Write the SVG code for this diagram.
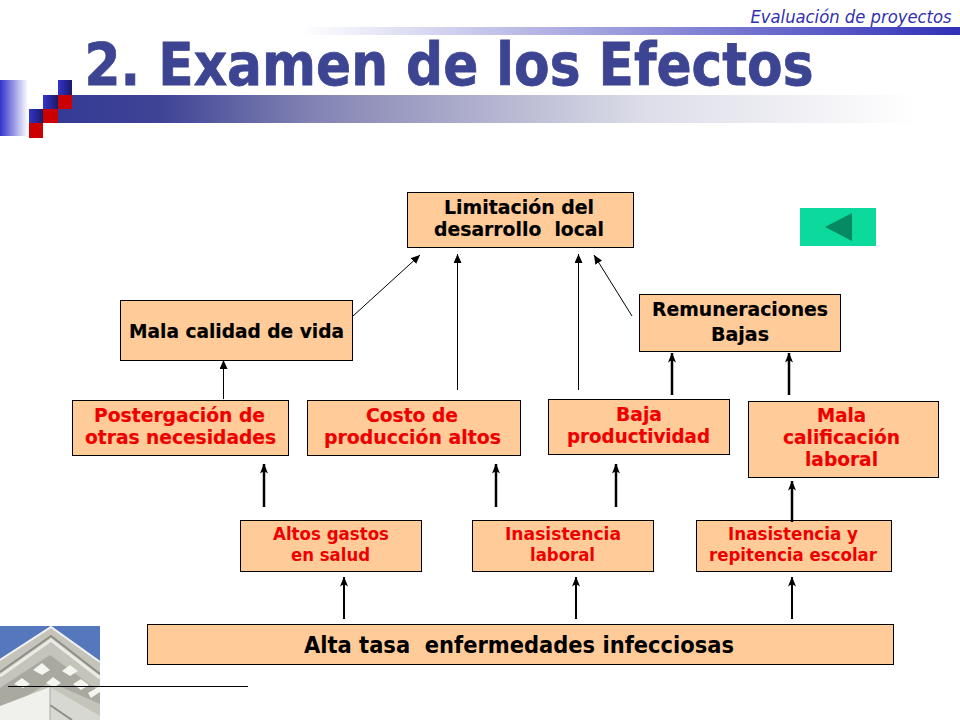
<svg xmlns="http://www.w3.org/2000/svg" width="960" height="720" viewBox="0 0 960 720">
<style>
.box{fill:#ffcc99;stroke:#000;stroke-width:1}
text{font-family:"DejaVu Sans","Liberation Sans",sans-serif;font-weight:700;text-anchor:middle;white-space:pre}
.k{fill:#000;stroke:#000;stroke-width:.2;font-size:20px}
.r{fill:#ee0000;stroke:#ee0000;stroke-width:.2;font-size:20px}
.s{fill:#ee0000;font-size:18px}
.c{stroke:#000;stroke-width:2.500;fill:none;marker-end:url(#a)}
.b{stroke:#000;stroke-width:2;fill:none;marker-end:url(#a)}
.t{stroke:#000;stroke-width:1;fill:none;marker-end:url(#a2)}
</style>
<defs>
<marker id="a" markerUnits="userSpaceOnUse" viewBox="0 0 10 8" refX="9.500" refY="4" markerWidth="10" markerHeight="8" orient="auto"><path d="M0 0L10 4L0 8L2.500 4Z" fill="#000"/></marker>
<marker id="a2" markerUnits="userSpaceOnUse" viewBox="0 0 9 8" refX="9" refY="4" markerWidth="9" markerHeight="8" orient="auto"><path d="M0 0L9 4L0 8Z" fill="#000"/></marker>
<linearGradient id="g1" x1="0" x2="1" y1="0" y2="0"><stop offset="0" stop-color="#353a95"/><stop offset=".12" stop-color="#3f4496"/><stop offset=".3" stop-color="#8484b4"/><stop offset=".68" stop-color="#dcdde8"/><stop offset="1" stop-color="#fff"/></linearGradient>
<linearGradient id="g2" x1="0" x2="1" y1="0" y2="0"><stop offset="0" stop-color="#fff"/><stop offset="1" stop-color="#3030b8"/></linearGradient>
<linearGradient id="g3" x1="0" x2="1" y1="0" y2="0"><stop offset="0" stop-color="#3333cc"/><stop offset="1" stop-color="#fff"/></linearGradient>
<linearGradient id="g4" x1="0" x2="1" y1="0" y2="0"><stop offset="0" stop-color="#3333cc"/><stop offset="1" stop-color="#1a1a66"/></linearGradient>
<clipPath id="ph"><rect x="0" y="626" width="100" height="94"/></clipPath>
</defs>
<g id="header">
<rect x="300" y="27" width="660" height="8" fill="url(#g2)"/>
<rect x="0" y="80" width="28" height="56" fill="url(#g3)"/>
<rect x="58" y="95" width="862" height="28" fill="url(#g1)"/>
<rect x="58" y="80" width="14" height="15" fill="url(#g4)"/>
<rect x="43" y="95" width="15" height="14" fill="url(#g4)"/>
<rect x="58" y="95" width="14" height="14" fill="#cc0000"/>
<rect x="29" y="109" width="14" height="14" fill="url(#g4)"/>
<rect x="43" y="109" width="15" height="14" fill="#cc0000"/>
<rect x="29" y="123" width="14" height="15" fill="#cc0000"/>
<text x="851" y="23" style="font-weight:400;font-style:italic;font-size:17px;fill:#3030b0" textLength="201" lengthAdjust="spacingAndGlyphs">Evaluación de proyectos</text>
<text x="449" y="85" style="font-size:59px;fill:#3d4593;stroke:#3d4593;stroke-width:.8" textLength="729" lengthAdjust="spacingAndGlyphs">2. Examen de los Efectos</text>
</g>
<g id="photo" clip-path="url(#ph)">
<rect x="0" y="626" width="100" height="94" fill="#5577bb"/>
<path d="M0 660L51 626L100 662V720H0Z" fill="#c4c4ba"/>
<path d="M0 660L51 627L100 662" fill="none" stroke="#f2f2f2" stroke-width="2"/>
<path d="M0 672L51 636L100 674" fill="none" stroke="#8f8f86" stroke-width="2"/>
<path d="M0 676L51 640L100 678" fill="none" stroke="#ecece6" stroke-width="3"/>
<path d="M0 688L50 655L100 692V704L50 682L0 712Z" fill="#a9a99f"/>
<path d="M14 684l8-6 8 6-7 4ZM33 670l9-7 8 7-8 5ZM46 683l7-6 8 6-7 4ZM62 671l8-6 8 6-8 5ZM73 684l8-5 8 6-8 5ZM88 693l12-7v6l-9 6Z" fill="#f5f5f0"/>
<path d="M0 706L50 687L50 720H0Z" fill="#f0f0ec"/>
<path d="M50 687L100 716V720H50Z" fill="#d8d8d2"/>
<path d="M50 705L72 720" stroke="#8f8f86" stroke-width="2" fill="none"/>
<path d="M50 687V720" stroke="#aaa" stroke-width="1" fill="none"/>
</g>
<path d="M8 686.500H248" stroke="#000" stroke-width="1" fill="none"/>
<g id="n1"><rect class="box" x="407.500" y="192.500" width="226" height="55"/><text class="k" x="519" y="214" textLength="150" lengthAdjust="spacingAndGlyphs">Limitación del</text><text class="k" x="519" y="236" textLength="170" lengthAdjust="spacingAndGlyphs">desarrollo  local</text></g>
<g id="n2"><rect class="box" x="120.500" y="300.500" width="232" height="60"/><text class="k" x="236.500" y="338" textLength="215" lengthAdjust="spacingAndGlyphs">Mala calidad de vida</text></g>
<g id="n3"><rect class="box" x="639.500" y="294.500" width="201" height="57"/><text class="k" x="740" y="316" textLength="176" lengthAdjust="spacingAndGlyphs">Remuneraciones</text><text class="k" x="740" y="341" textLength="58" lengthAdjust="spacingAndGlyphs">Bajas</text></g>
<g id="n4"><rect class="box" x="72.500" y="400.500" width="216" height="55"/><text class="r" x="179.500" y="422" textLength="171" lengthAdjust="spacingAndGlyphs">Postergación de</text><text class="r" x="180.500" y="444" textLength="191" lengthAdjust="spacingAndGlyphs">otras necesidades</text></g>
<g id="n5"><rect class="box" x="307.500" y="400.500" width="213" height="55"/><text class="r" x="412" y="422" textLength="92" lengthAdjust="spacingAndGlyphs">Costo de</text><text class="r" x="412.500" y="444" textLength="177" lengthAdjust="spacingAndGlyphs">producción altos</text></g>
<g id="n6"><rect class="box" x="548.500" y="399.500" width="181" height="55"/><text class="r" x="639" y="421" textLength="46" lengthAdjust="spacingAndGlyphs">Baja</text><text class="r" x="638.500" y="443" textLength="143" lengthAdjust="spacingAndGlyphs">productividad</text></g>
<g id="n7"><rect class="box" x="748.500" y="401.500" width="190" height="76"/><text class="r" x="841.500" y="422" textLength="49" lengthAdjust="spacingAndGlyphs">Mala</text><text class="r" x="841.500" y="444" textLength="117" lengthAdjust="spacingAndGlyphs">calificación</text><text class="r" x="841.500" y="466" textLength="73" lengthAdjust="spacingAndGlyphs">laboral</text></g>
<g id="n8"><rect class="box" x="240.500" y="520.500" width="181" height="51"/><text class="s" x="331" y="540" textLength="116" lengthAdjust="spacingAndGlyphs">Altos gastos</text><text class="s" x="330.500" y="561" textLength="79" lengthAdjust="spacingAndGlyphs">en salud</text></g>
<g id="n9"><rect class="box" x="472.500" y="520.500" width="181" height="51"/><text class="s" x="563" y="540" textLength="116" lengthAdjust="spacingAndGlyphs">Inasistencia</text><text class="s" x="562.500" y="561" textLength="65" lengthAdjust="spacingAndGlyphs">laboral</text></g>
<g id="n10"><rect class="box" x="696.500" y="520.500" width="195" height="51"/><text class="s" x="793" y="540" textLength="130" lengthAdjust="spacingAndGlyphs">Inasistencia y</text><text class="s" x="793" y="561" textLength="168" lengthAdjust="spacingAndGlyphs">repitencia escolar</text></g>
<g id="n11"><rect class="box" x="147.500" y="624.500" width="746" height="40"/><text x="519" y="653" style="font-size:23px;fill:#000" textLength="430" lengthAdjust="spacingAndGlyphs">Alta tasa  enfermedades infecciosas</text></g>
<g id="back"><rect x="800" y="208" width="76" height="38" fill="#0cd99c"/><path d="M825 227L852 213V241Z" fill="#068a63"/></g>
<g id="connectors">
<path class="t" d="M353 316L420 255"/>
<path class="t" d="M457.500 390V254"/>
<path class="t" d="M578.500 390V254"/>
<path class="t" d="M632 316L594 255"/>
<path class="t" d="M223.500 399V360"/>
<path class="c" d="M672 395V353"/>
<path class="c" d="M789 395V353"/>
<path class="c" d="M264 507V464"/>
<path class="c" d="M496 507V464"/>
<path class="c" d="M616 507V464"/>
<path class="c" d="M792 522V481"/>
<path class="b" d="M344 619V577"/>
<path class="b" d="M576 619V577"/>
<path class="b" d="M792 619V577"/>
</g>
</svg>
